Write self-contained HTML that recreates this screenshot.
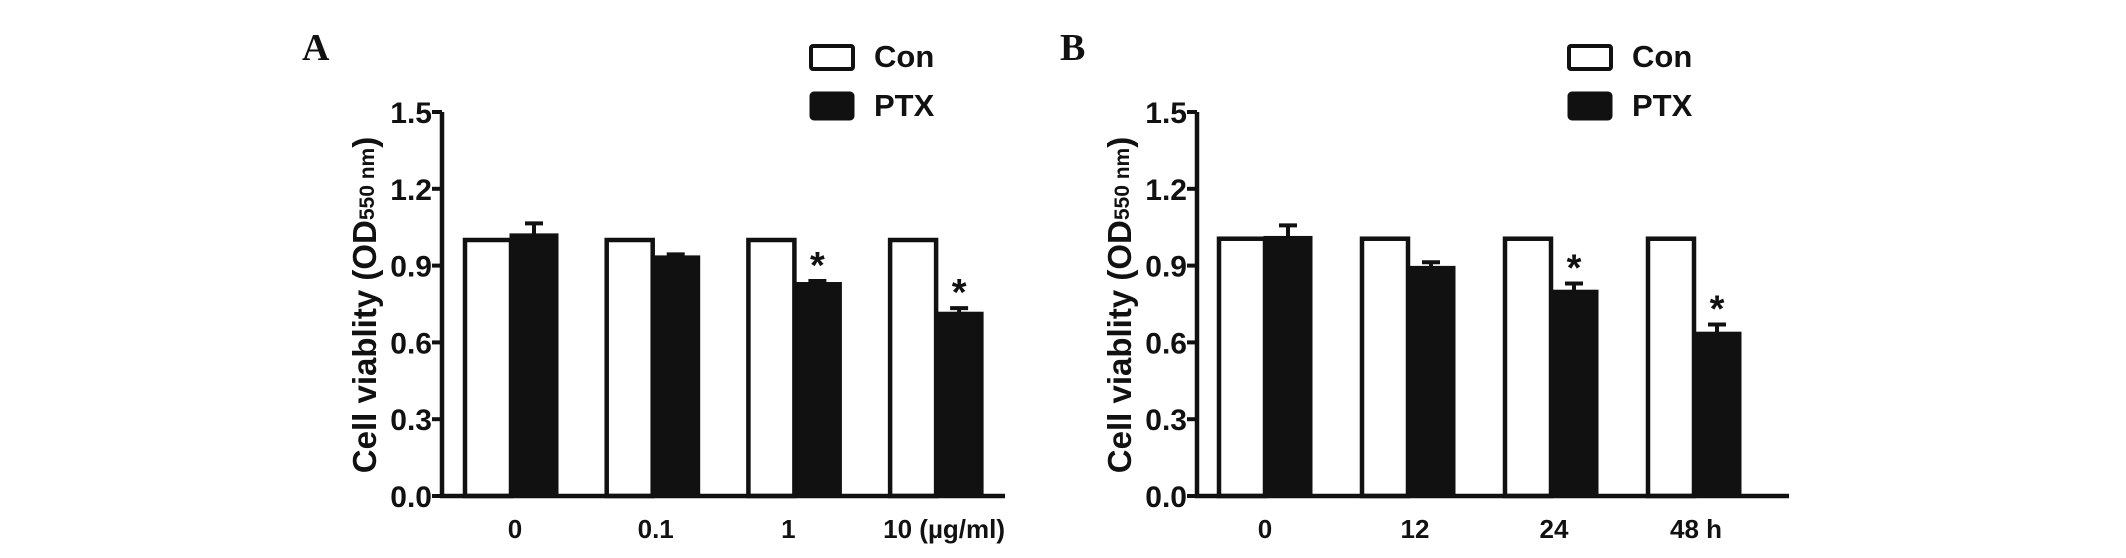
<!DOCTYPE html>
<html><head><meta charset="utf-8"><style>
html,body{margin:0;padding:0;background:#fff;}
svg{display:block;}
text{font-family:"Liberation Sans",Arial,sans-serif;font-weight:bold;fill:#111;}
</style></head><body>
<svg id="fig" width="2126" height="558" viewBox="0 0 2126 558" xmlns="http://www.w3.org/2000/svg"></svg>
<script>
const categoriesA = ["0", "0.1", "1", "10 (\u00b5g/ml)"];
const conA = [1.0, 1.0, 1.0, 1.0];
const ptxA = [1.02, 0.934, 0.83, 0.714];
const errA = [0.045, 0.01, 0.01, 0.02];
const sigA = [false, false, true, true];
const categoriesB = ["0", "12", "24", "48 h"];
const conB = [1.005, 1.005, 1.005, 1.005];
const ptxB = [1.01, 0.893, 0.80, 0.636];
const errB = [0.047, 0.02, 0.03, 0.034];
const sigB = [false, false, true, true];
const yTicks = [0.0, 0.3, 0.6, 0.9, 1.2, 1.5];
const yTickLabels = ["0.0", "0.3", "0.6", "0.9", "1.2", "1.5"];

const NS = "http://www.w3.org/2000/svg";
const svg = document.getElementById('fig');
function mk(tag, attrs, parent){
  const e = document.createElementNS(NS, tag);
  for (const k in attrs) e.setAttribute(k, attrs[k]);
  (parent||svg).appendChild(e);
  return e;
}
function panel(opt){
  const g = mk('g', {});
  
  
  const y0 = 496, y1 = 112;
  const yS = v => y0 - (v / 1.5) * (y0 - y1);
  const gx = i => opt.c0 + i * opt.step;
  const bw = 46;
  const L = mk('text', {x: opt.lx, y: 60, 'font-size': 38, style: 'font-family:"Liberation Serif",serif;font-weight:bold'}, g);
  L.textContent = opt.letter;
  
  
  opt.cats.forEach((c, i) => {
    const cx = gx(i);
    const r1 = mk('rect', {x: cx - bw, y: yS(opt.con[i]), width: bw, height: y0 - yS(opt.con[i]), fill: '#fff', stroke: '#111', 'stroke-width': 4.5}, g);
    
    
    const top = yS(opt.ptx[i] + opt.err[i]);
    const el = mk('path', {d: `M${cx+bw/2} ${yS(opt.ptx[i])} V${top} M${cx+bw/2-9} ${top} H${cx+bw/2+9}`, stroke: '#111', 'stroke-width': 4, fill: 'none'}, g);
    
    
    const r2 = mk('rect', {x: cx, y: yS(opt.ptx[i]), width: bw, height: y0 - yS(opt.ptx[i]), fill: '#111', stroke: '#111', 'stroke-width': 3}, g);
    
    
    if (opt.sig[i]) {
      const s = mk('text', {x: cx + bw/2, y: top - 3, 'font-size': 38, 'text-anchor': 'middle'}, g);
      s.textContent = '*';
      
      
    }
    const t = mk('text', {x: cx + opt.labOff[i], y: 538, 'font-size': 26, 'text-anchor': 'middle'}, g);
    t.textContent = c;
    
    
  });
  const ax = mk('path', {d: `M${opt.ax} ${y1} V${y0} H${opt.xEnd}`, stroke: '#111', 'stroke-width': 4.5, fill: 'none'}, g);
  
  
  yTicks.forEach((v, i) => {
    const tk = mk('line', {x1: opt.ax - 10, x2: opt.ax, y1: yS(v), y2: yS(v), stroke: '#111', 'stroke-width': 4}, g);
    
    
    const tl = mk('text', {x: opt.ax - 10, y: yS(v) + 11, 'font-size': 30, 'text-anchor': 'end'}, g);
    tl.textContent = yTickLabels[i];
    
    
  });
  const yt = mk('text', {x: 0, y: 0, 'font-size': 33, 'text-anchor': 'middle', transform: `translate(${opt.ax - 66},305) rotate(-90)`}, g);
  yt.innerHTML = 'Cell viablity (OD<tspan font-size="21" dy="-2">550 nm</tspan><tspan dy="2">)</tspan>';
  
  
  const lg = mk('g', {}, g);
  
  
  const b1 = mk('rect', {x: opt.legX, y: 46, width: 42, height: 23, fill: '#fff', stroke: '#111', 'stroke-width': 4, rx: 2}, lg);
  
  
  const t1 = mk('text', {x: opt.legX + 63, y: 67, 'font-size': 31}, lg);
  t1.textContent = 'Con';
  
  
  const b2 = mk('rect', {x: opt.legX, y: 93, width: 42, height: 26, fill: '#111', stroke: '#111', 'stroke-width': 3, rx: 3}, lg);
  
  
  const t2 = mk('text', {x: opt.legX + 63, y: 116, 'font-size': 31}, lg);
  t2.textContent = 'PTX';
  
  
}
panel({letter: 'A', lx: 302, ax: 442, xEnd: 1005, c0: 511, step: 141.7, cats: categoriesA, con: conA, ptx: ptxA, err: errA, sig: sigA, legX: 811, labOff: [4, 3, -6, 8]});
panel({letter: 'B', lx: 1060, ax: 1197, xEnd: 1789, c0: 1265, step: 143, cats: categoriesB, con: conB, ptx: ptxB, err: errB, sig: sigB, legX: 1569, labOff: [0, 7, 3, 2]});
</script>
</body></html>
